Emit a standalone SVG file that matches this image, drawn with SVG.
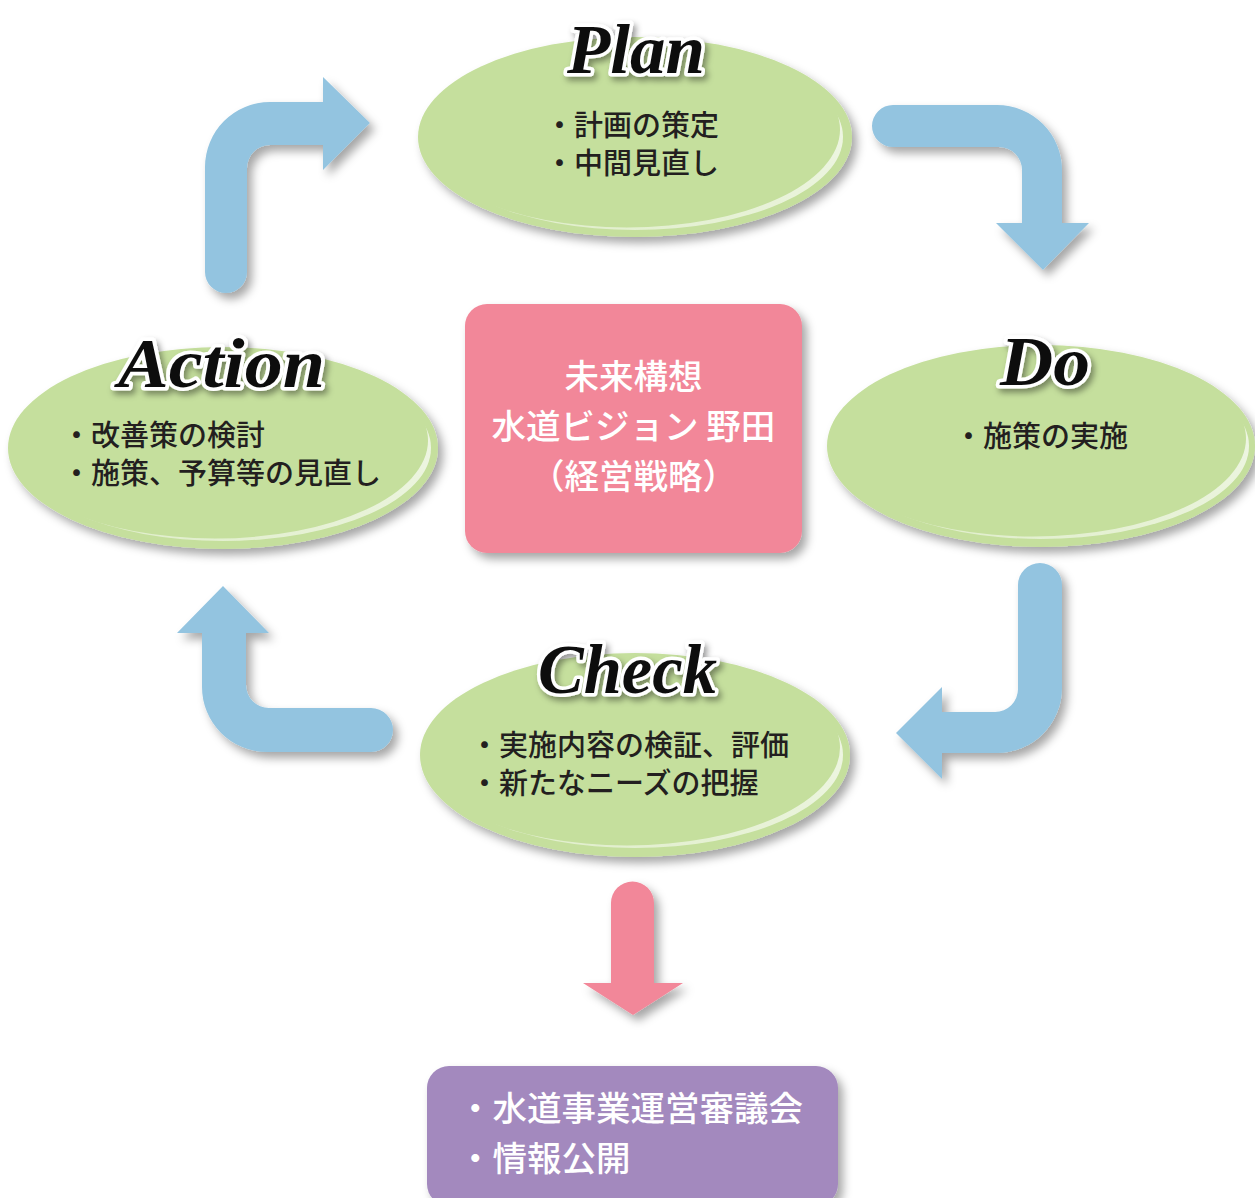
<svg xmlns="http://www.w3.org/2000/svg" width="1255" height="1198" viewBox="0 0 1255 1198">
<defs>
<filter id="sh" x="-20%" y="-20%" width="150%" height="150%">
<feDropShadow dx="5" dy="6" stdDeviation="5" flood-color="#000" flood-opacity="0.35"/>
</filter>
<filter id="tsh" x="-20%" y="-30%" width="150%" height="170%">
<feDropShadow dx="3" dy="4" stdDeviation="3" flood-color="#000" flood-opacity="0.4"/>
</filter>
<mask id="hl" maskUnits="userSpaceOnUse" x="-230" y="-120" width="460" height="240">
<ellipse cx="0" cy="0" rx="208" ry="93" fill="#fff"/>
<ellipse cx="-8" cy="-7.5" rx="213" ry="98" fill="#000"/>
</mask>
<linearGradient id="hg" x1="0" y1="1" x2="1" y2="0">
<stop offset="0" stop-color="#fff" stop-opacity="0.4"/>
<stop offset="1" stop-color="#fff" stop-opacity="0.8"/>
</linearGradient>
</defs>
<style>
.ell{fill:#C5DF9D}
.hl{fill:url(#hg)}
.arr{fill:#93C4E0}
.title{font-family:"Liberation Serif","DejaVu Serif",serif;font-style:italic;font-weight:bold;font-size:70px;fill:#111;stroke:#fff;stroke-width:7px;stroke-linejoin:round;paint-order:stroke}
.body{font-family:"Noto Sans CJK JP","Noto Sans CJK SC",sans-serif;font-weight:500;font-size:29px;fill:#231F20}
.wt{font-family:"Noto Sans CJK JP","Noto Sans CJK SC",sans-serif;font-weight:500;font-size:34.5px;fill:#fff}
</style>
<rect width="1255" height="1198" fill="#fff"/>

<g id="connectors">
<path class="arr" filter="url(#sh)" d="M 205 272 L 205 167 A 65 65 0 0 1 270 102 L 323 102 L 323 77 L 370 123 L 323 170 L 323 145 L 270 145 A 23 23 0 0 0 247 168 L 247 272 A 21 21 0 0 1 205 272 Z"/>
<path class="arr" filter="url(#sh)" d="M 893 105 L 997 105 A 65 65 0 0 1 1062 170 L 1062 223 L 1089 223 L 1043 270 L 996 223 L 1022 223 L 1022 170 A 23 23 0 0 0 999 147 L 893 147 A 21 21 0 0 1 893 105 Z"/>
<path class="arr" filter="url(#sh)" d="M 1062 585 L 1062 688 A 65 65 0 0 1 997 753 L 942 753 L 942 779 L 896 733 L 942 687 L 942 712 L 995 712 A 23 23 0 0 0 1018 689 L 1018 585 A 22 22 0 0 1 1062 585 Z"/>
<path class="arr" filter="url(#sh)" d="M 371 752 L 267 752 A 65 65 0 0 1 202 687 L 202 633 L 177 633 L 223 586 L 269 633 L 246 633 L 246 685 A 23 23 0 0 0 269 708 L 371 708 A 22 22 0 0 1 371 752 Z"/>
<path fill="#F28799" filter="url(#sh)" d="M 611 903 A 21.5 21.5 0 0 1 654 903 L 654 983 L 683 983 L 633 1015 L 583 983 L 611 983 Z"/>
</g>

<g id="plan" transform="translate(635,137)">
<ellipse class="ell" filter="url(#sh)" cx="0" cy="0" rx="217" ry="100"/>
<rect class="hl" x="-230" y="-120" width="460" height="240" mask="url(#hl)"/>
<text class="title" filter="url(#tsh)" x="-68" y="-64" textLength="138" lengthAdjust="spacingAndGlyphs">Plan</text>
<text class="body" x="-90" y="-1">・計画の策定</text>
<text class="body" x="-90" y="37">・中間見直し</text>
</g>

<g id="action" transform="translate(223,448)">
<ellipse class="ell" filter="url(#sh)" cx="0" cy="0" rx="215" ry="101"/>
<rect class="hl" x="-230" y="-120" width="460" height="240" mask="url(#hl)"/>
<text class="title" filter="url(#tsh)" x="-105" y="-61" textLength="207" lengthAdjust="spacingAndGlyphs">Action</text>
<text class="body" x="-161" y="-2">・改善策の検討</text>
<text class="body" x="-161" y="36">・施策、予算等の見直し</text>
</g>

<g id="do" transform="translate(1041,446)">
<ellipse class="ell" filter="url(#sh)" cx="0" cy="0" rx="214" ry="101"/>
<rect class="hl" x="-230" y="-120" width="460" height="240" mask="url(#hl)"/>
<text class="title" filter="url(#tsh)" x="-41" y="-61" textLength="90" lengthAdjust="spacingAndGlyphs">Do</text>
<text class="body" x="-87" y="1">・施策の実施</text>
</g>

<g id="check" transform="translate(635,755)">
<ellipse class="ell" filter="url(#sh)" cx="0" cy="0" rx="215" ry="102"/>
<rect class="hl" x="-230" y="-120" width="460" height="240" mask="url(#hl)"/>
<text class="title" filter="url(#tsh)" x="-97" y="-62" textLength="179" lengthAdjust="spacingAndGlyphs">Check</text>
<text class="body" x="-165" y="1">・実施内容の検証、評価</text>
<text class="body" x="-165" y="39">・新たなニーズの把握</text>
</g>

<g id="vision">
<rect x="465" y="304" width="337" height="249" rx="22" fill="#F28799" filter="url(#sh)"/>
<text class="wt" x="633.5" y="389" text-anchor="middle">未来構想</text>
<text class="wt" x="633.5" y="439" text-anchor="middle">水道ビジョン 野田</text>
<text class="wt" x="633.5" y="489" text-anchor="middle">（経営戦略）</text>
</g>

<g id="council">
<rect x="427" y="1066" width="411" height="140" rx="22" fill="#A389BE" filter="url(#sh)"/>
<text class="wt" x="458" y="1121">・水道事業運営審議会</text>
<text class="wt" x="458" y="1171">・情報公開</text>
</g>
</svg>
